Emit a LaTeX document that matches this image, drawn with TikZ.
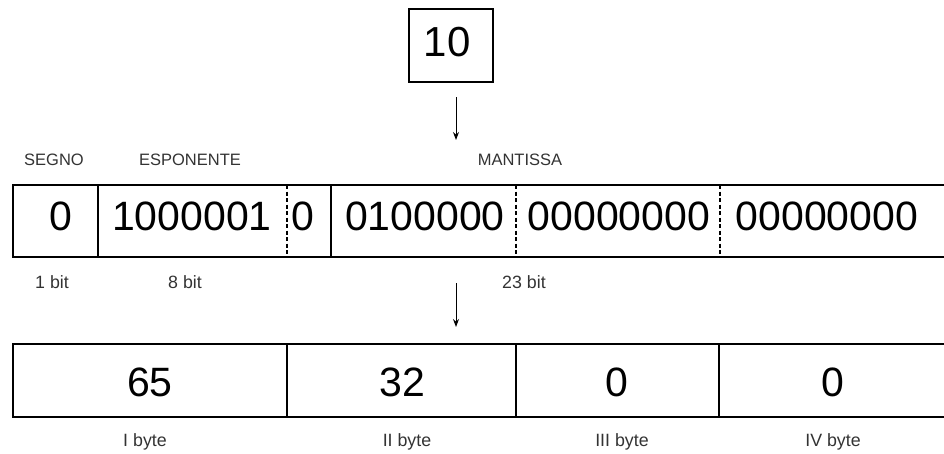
\documentclass[tikz,border=0pt]{standalone}
\usepackage{fontspec}
\setmainfont{Liberation Sans}
\usetikzlibrary{arrows.meta}
\begin{document}
\begin{tikzpicture}[x=1pt,y=-1pt,
  frame/.style={line width=2.6pt},
  sep/.style={line width=1.3pt},
  dsep/.style={line width=1.2pt, dash pattern=on 4pt off 2.5pt},
  big/.style={font=\fontsize{41}{41}\selectfont, inner sep=0pt},
  head/.style={font=\fontsize{16.5}{16.5}\selectfont, text=black!80, inner sep=0pt, anchor=base},
  lab/.style={font=\fontsize{17.8}{17.8}\selectfont, text=black!80, inner sep=0pt, anchor=base},
  arr/.style={line width=1pt, -{Stealth[length=8pt,width=6pt]}}]
\useasboundingbox (0,0) rectangle (944,453);
\clip (0,0) rectangle (944,453);

% decimal value
\node[draw, line width=2.6pt, minimum width=84pt, minimum height=73pt, inner sep=0pt] (ten) at (451,45.5) {};
\node[big, font=\fontsize{42}{42}\selectfont] (tenv) at (447,41.7) {10};
\coordinate (a1s) at (456,97);
\coordinate (a1e) at (456,140);
\draw[arr] (a1s) -- (a1e);

% field headers
\node[head] (segno) at (54,165.5) {SEGNO};
\node[head] (esp) at (190,165.5) {ESPONENTE};
\node[head] (mant) at (520,165.5) {MANTISSA};

% IEEE 754 single precision row
\draw[frame] (960,185) -- (13,185) -- (13,257) -- (960,257);
\draw[sep] (98,185) -- (98,257);
\draw[dsep] (287,185) -- (287,257);
\draw[sep] (331,185) -- (331,257);
\draw[dsep] (516,185) -- (516,257);
\draw[dsep] (720,185) -- (720,257);
\node[big] (sgn) at (61,216.5) {0};
\node[big] (expa) at (192,216.5) {1000001};
\node[big] (expb) at (303,216.5) {0};
\node[big] (m1) at (425,216.5) {0100000};
\node[big] (m2) at (619,216.5) {00000000};
\node[big] (m3) at (827,216.5) {00000000};

% field widths
\node[lab] (b1) at (52,288.5) {1 bit};
\node[lab] (b8) at (185,288.5) {8 bit};
\node[lab] (b23) at (524,288.5) {23 bit};

\coordinate (a2s) at (456,283);
\coordinate (a2e) at (456,327);
\draw[arr] (a2s) -- (a2e);

% bytes row
\draw[frame] (960,344) -- (13,344) -- (13,417) -- (960,417);
\draw[sep] (287,344) -- (287,417);
\draw[sep] (516,344) -- (516,417);
\draw[sep] (719,344) -- (719,417);
\node[big] (v1) at (150,382) {65};
\node[big] (v2) at (402,382) {32};
\node[big] (v3) at (617,382) {0};
\node[big] (v4) at (833,382) {0};

\node[lab] (y1) at (145,446.5) {I byte};
\node[lab] (y2) at (407,446.5) {II byte};
\node[lab] (y3) at (622,446.5) {III byte};
\node[lab] (y4) at (833,446.5) {IV byte};
\end{tikzpicture}
\end{document}
